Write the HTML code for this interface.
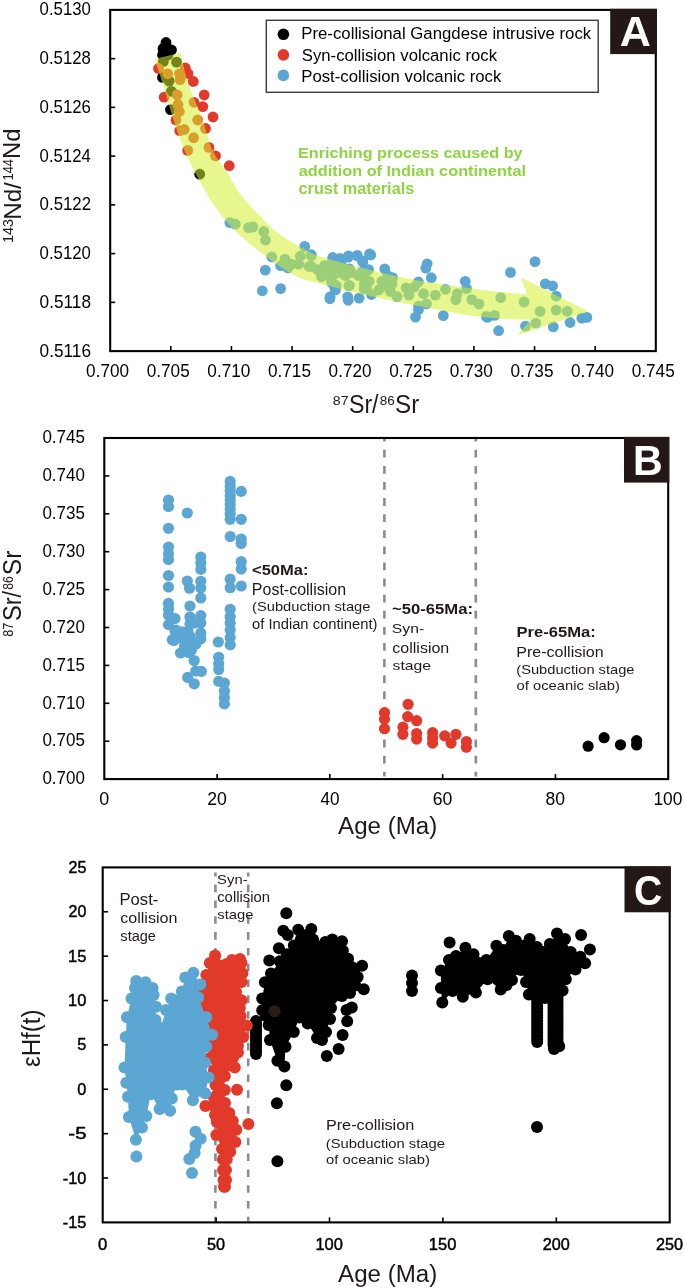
<!DOCTYPE html>
<html><head><meta charset="utf-8"><style>
html,body{margin:0;padding:0;background:#fff;}
svg{display:block;font-family:"Liberation Sans",sans-serif;will-change:transform;}
</style></head><body>
<svg width="685" height="1288" viewBox="0 0 685 1288">
<rect width="685" height="1288" fill="#fff"/>
<circle cx="171.5" cy="50.0" r="5.4" fill="#000000"/>
<circle cx="168.0" cy="55.0" r="5.4" fill="#000000"/>
<circle cx="166.0" cy="42.5" r="5.4" fill="#000000"/>
<circle cx="163.0" cy="48.5" r="5.4" fill="#000000"/>
<circle cx="165.5" cy="52.0" r="5.4" fill="#000000"/>
<circle cx="162.5" cy="55.0" r="5.4" fill="#000000"/>
<circle cx="163.4" cy="61.4" r="5.4" fill="#000000"/>
<circle cx="176.5" cy="62.1" r="5.4" fill="#000000"/>
<circle cx="162.5" cy="77.4" r="5.4" fill="#000000"/>
<circle cx="169.2" cy="81.1" r="5.4" fill="#000000"/>
<circle cx="171.4" cy="91.3" r="5.4" fill="#000000"/>
<circle cx="170.5" cy="109.6" r="5.4" fill="#000000"/>
<circle cx="199.7" cy="174.2" r="5.4" fill="#000000"/>
<circle cx="158.5" cy="68.5" r="5.4" fill="#e23a2a"/>
<circle cx="167.7" cy="73.8" r="5.4" fill="#e23a2a"/>
<circle cx="180.1" cy="79.6" r="5.4" fill="#e23a2a"/>
<circle cx="179.4" cy="73.8" r="5.4" fill="#e23a2a"/>
<circle cx="185.3" cy="68.0" r="5.4" fill="#e23a2a"/>
<circle cx="188.0" cy="73.5" r="5.4" fill="#e23a2a"/>
<circle cx="193.3" cy="81.5" r="5.4" fill="#e23a2a"/>
<circle cx="164.1" cy="97.2" r="5.4" fill="#e23a2a"/>
<circle cx="177.2" cy="95.0" r="5.4" fill="#e23a2a"/>
<circle cx="204.2" cy="95.0" r="5.4" fill="#e23a2a"/>
<circle cx="194.0" cy="102.3" r="5.4" fill="#e23a2a"/>
<circle cx="202.8" cy="106.6" r="5.4" fill="#e23a2a"/>
<circle cx="178.0" cy="104.5" r="5.4" fill="#e23a2a"/>
<circle cx="179.4" cy="111.5" r="5.4" fill="#e23a2a"/>
<circle cx="213.0" cy="117.0" r="5.4" fill="#e23a2a"/>
<circle cx="197.7" cy="120.0" r="5.4" fill="#e23a2a"/>
<circle cx="176.0" cy="120.0" r="5.4" fill="#e23a2a"/>
<circle cx="205.5" cy="128.5" r="5.4" fill="#e23a2a"/>
<circle cx="184.3" cy="129.5" r="5.4" fill="#e23a2a"/>
<circle cx="179.7" cy="130.7" r="5.4" fill="#e23a2a"/>
<circle cx="193.6" cy="137.7" r="5.4" fill="#e23a2a"/>
<circle cx="187.7" cy="150.4" r="5.4" fill="#e23a2a"/>
<circle cx="208.9" cy="147.4" r="5.4" fill="#e23a2a"/>
<circle cx="215.5" cy="155.9" r="5.4" fill="#e23a2a"/>
<circle cx="229.3" cy="165.7" r="5.4" fill="#e23a2a"/>
<circle cx="332.8" cy="257.5" r="5.4" fill="#5ba6d3"/>
<circle cx="339.8" cy="258.4" r="5.4" fill="#5ba6d3"/>
<circle cx="348.5" cy="255.8" r="5.4" fill="#5ba6d3"/>
<circle cx="357.3" cy="255.3" r="5.4" fill="#5ba6d3"/>
<circle cx="362.5" cy="261.0" r="5.4" fill="#5ba6d3"/>
<circle cx="369.5" cy="254.0" r="5.4" fill="#5ba6d3"/>
<circle cx="321.4" cy="269.8" r="5.4" fill="#5ba6d3"/>
<circle cx="327.5" cy="266.3" r="5.4" fill="#5ba6d3"/>
<circle cx="334.5" cy="264.5" r="5.4" fill="#5ba6d3"/>
<circle cx="341.5" cy="265.4" r="5.4" fill="#5ba6d3"/>
<circle cx="349.4" cy="268.9" r="5.4" fill="#5ba6d3"/>
<circle cx="351.2" cy="272.4" r="5.4" fill="#5ba6d3"/>
<circle cx="321.4" cy="276.8" r="5.4" fill="#5ba6d3"/>
<circle cx="329.3" cy="275.0" r="5.4" fill="#5ba6d3"/>
<circle cx="336.3" cy="273.3" r="5.4" fill="#5ba6d3"/>
<circle cx="343.3" cy="273.3" r="5.4" fill="#5ba6d3"/>
<circle cx="331.9" cy="282.9" r="5.4" fill="#5ba6d3"/>
<circle cx="336.3" cy="285.5" r="5.4" fill="#5ba6d3"/>
<circle cx="349.4" cy="285.5" r="5.4" fill="#5ba6d3"/>
<circle cx="365.2" cy="273.3" r="5.4" fill="#5ba6d3"/>
<circle cx="364.3" cy="283.8" r="5.4" fill="#5ba6d3"/>
<circle cx="311.3" cy="255.8" r="5.4" fill="#5ba6d3"/>
<circle cx="311.3" cy="266.3" r="5.4" fill="#5ba6d3"/>
<circle cx="335.4" cy="289.9" r="5.4" fill="#5ba6d3"/>
<circle cx="330.1" cy="296.9" r="5.4" fill="#5ba6d3"/>
<circle cx="347.7" cy="296.9" r="5.4" fill="#5ba6d3"/>
<circle cx="317.5" cy="269.6" r="5.4" fill="#5ba6d3"/>
<circle cx="324.8" cy="265.3" r="5.4" fill="#5ba6d3"/>
<circle cx="323.4" cy="274.0" r="5.4" fill="#5ba6d3"/>
<circle cx="345.3" cy="275.5" r="5.4" fill="#5ba6d3"/>
<circle cx="358.4" cy="275.5" r="5.4" fill="#5ba6d3"/>
<circle cx="367.2" cy="281.3" r="5.4" fill="#5ba6d3"/>
<circle cx="364.2" cy="288.6" r="5.4" fill="#5ba6d3"/>
<circle cx="381.8" cy="281.3" r="5.4" fill="#5ba6d3"/>
<circle cx="378.8" cy="290.0" r="5.4" fill="#5ba6d3"/>
<circle cx="392.0" cy="284.2" r="5.4" fill="#5ba6d3"/>
<circle cx="390.5" cy="291.5" r="5.4" fill="#5ba6d3"/>
<circle cx="229.9" cy="222.6" r="5.4" fill="#5ba6d3"/>
<circle cx="235.3" cy="224.1" r="5.4" fill="#5ba6d3"/>
<circle cx="248.5" cy="227.7" r="5.4" fill="#5ba6d3"/>
<circle cx="252.8" cy="227.0" r="5.4" fill="#5ba6d3"/>
<circle cx="263.8" cy="231.4" r="5.4" fill="#5ba6d3"/>
<circle cx="265.5" cy="240.1" r="5.4" fill="#5ba6d3"/>
<circle cx="271.8" cy="256.9" r="5.4" fill="#5ba6d3"/>
<circle cx="265.3" cy="270.1" r="5.4" fill="#5ba6d3"/>
<circle cx="262.3" cy="290.8" r="5.4" fill="#5ba6d3"/>
<circle cx="280.6" cy="288.6" r="5.4" fill="#5ba6d3"/>
<circle cx="280.6" cy="265.7" r="5.4" fill="#5ba6d3"/>
<circle cx="285.0" cy="259.1" r="5.4" fill="#5ba6d3"/>
<circle cx="287.9" cy="267.9" r="5.4" fill="#5ba6d3"/>
<circle cx="291.5" cy="264.2" r="5.4" fill="#5ba6d3"/>
<circle cx="298.8" cy="264.2" r="5.4" fill="#5ba6d3"/>
<circle cx="300.3" cy="256.2" r="5.4" fill="#5ba6d3"/>
<circle cx="304.7" cy="246.4" r="5.4" fill="#5ba6d3"/>
<circle cx="311.2" cy="254.7" r="5.4" fill="#5ba6d3"/>
<circle cx="309.1" cy="266.4" r="5.4" fill="#5ba6d3"/>
<circle cx="319.3" cy="270.1" r="5.4" fill="#5ba6d3"/>
<circle cx="332.8" cy="258.7" r="5.4" fill="#5ba6d3"/>
<circle cx="348.2" cy="257.2" r="5.4" fill="#5ba6d3"/>
<circle cx="356.9" cy="255.8" r="5.4" fill="#5ba6d3"/>
<circle cx="370.8" cy="255.0" r="5.4" fill="#5ba6d3"/>
<circle cx="362.8" cy="262.3" r="5.4" fill="#5ba6d3"/>
<circle cx="322.6" cy="269.6" r="5.4" fill="#5ba6d3"/>
<circle cx="330.7" cy="266.7" r="5.4" fill="#5ba6d3"/>
<circle cx="339.4" cy="269.6" r="5.4" fill="#5ba6d3"/>
<circle cx="349.6" cy="271.1" r="5.4" fill="#5ba6d3"/>
<circle cx="331.4" cy="281.3" r="5.4" fill="#5ba6d3"/>
<circle cx="335.0" cy="288.6" r="5.4" fill="#5ba6d3"/>
<circle cx="348.9" cy="285.7" r="5.4" fill="#5ba6d3"/>
<circle cx="362.0" cy="271.8" r="5.4" fill="#5ba6d3"/>
<circle cx="368.6" cy="269.6" r="5.4" fill="#5ba6d3"/>
<circle cx="369.3" cy="281.3" r="5.4" fill="#5ba6d3"/>
<circle cx="366.4" cy="288.6" r="5.4" fill="#5ba6d3"/>
<circle cx="371.5" cy="294.5" r="5.4" fill="#5ba6d3"/>
<circle cx="359.1" cy="298.1" r="5.4" fill="#5ba6d3"/>
<circle cx="348.2" cy="300.3" r="5.4" fill="#5ba6d3"/>
<circle cx="329.9" cy="298.8" r="5.4" fill="#5ba6d3"/>
<circle cx="384.7" cy="268.9" r="5.4" fill="#5ba6d3"/>
<circle cx="387.6" cy="275.5" r="5.4" fill="#5ba6d3"/>
<circle cx="386.9" cy="286.4" r="5.4" fill="#5ba6d3"/>
<circle cx="397.1" cy="296.6" r="5.4" fill="#5ba6d3"/>
<circle cx="392.7" cy="277.7" r="5.4" fill="#5ba6d3"/>
<circle cx="427.2" cy="263.8" r="5.4" fill="#5ba6d3"/>
<circle cx="425.8" cy="268.2" r="5.4" fill="#5ba6d3"/>
<circle cx="431.3" cy="277.7" r="5.4" fill="#5ba6d3"/>
<circle cx="418.5" cy="282.0" r="5.4" fill="#5ba6d3"/>
<circle cx="406.1" cy="287.9" r="5.4" fill="#5ba6d3"/>
<circle cx="414.1" cy="287.2" r="5.4" fill="#5ba6d3"/>
<circle cx="409.0" cy="295.2" r="5.4" fill="#5ba6d3"/>
<circle cx="423.6" cy="293.7" r="5.4" fill="#5ba6d3"/>
<circle cx="435.3" cy="295.2" r="5.4" fill="#5ba6d3"/>
<circle cx="445.5" cy="289.3" r="5.4" fill="#5ba6d3"/>
<circle cx="457.2" cy="293.7" r="5.4" fill="#5ba6d3"/>
<circle cx="455.7" cy="299.6" r="5.4" fill="#5ba6d3"/>
<circle cx="465.2" cy="281.3" r="5.4" fill="#5ba6d3"/>
<circle cx="466.6" cy="288.6" r="5.4" fill="#5ba6d3"/>
<circle cx="471.8" cy="299.6" r="5.4" fill="#5ba6d3"/>
<circle cx="479.0" cy="303.9" r="5.4" fill="#5ba6d3"/>
<circle cx="426.5" cy="303.9" r="5.4" fill="#5ba6d3"/>
<circle cx="418.5" cy="306.1" r="5.4" fill="#5ba6d3"/>
<circle cx="418.5" cy="309.8" r="5.4" fill="#5ba6d3"/>
<circle cx="415.5" cy="317.1" r="5.4" fill="#5ba6d3"/>
<circle cx="443.3" cy="315.6" r="5.4" fill="#5ba6d3"/>
<circle cx="486.4" cy="316.4" r="5.4" fill="#5ba6d3"/>
<circle cx="391.5" cy="281.3" r="5.4" fill="#5ba6d3"/>
<circle cx="535.0" cy="261.6" r="5.4" fill="#5ba6d3"/>
<circle cx="510.5" cy="272.4" r="5.4" fill="#5ba6d3"/>
<circle cx="545.3" cy="283.8" r="5.4" fill="#5ba6d3"/>
<circle cx="552.6" cy="286.0" r="5.4" fill="#5ba6d3"/>
<circle cx="556.2" cy="296.2" r="5.4" fill="#5ba6d3"/>
<circle cx="524.1" cy="302.0" r="5.4" fill="#5ba6d3"/>
<circle cx="540.1" cy="311.5" r="5.4" fill="#5ba6d3"/>
<circle cx="556.2" cy="310.1" r="5.4" fill="#5ba6d3"/>
<circle cx="567.2" cy="311.2" r="5.4" fill="#5ba6d3"/>
<circle cx="581.8" cy="318.1" r="5.4" fill="#5ba6d3"/>
<circle cx="586.9" cy="317.4" r="5.4" fill="#5ba6d3"/>
<circle cx="570.1" cy="322.5" r="5.4" fill="#5ba6d3"/>
<circle cx="553.3" cy="326.9" r="5.4" fill="#5ba6d3"/>
<circle cx="535.8" cy="323.2" r="5.4" fill="#5ba6d3"/>
<circle cx="525.5" cy="326.1" r="5.4" fill="#5ba6d3"/>
<circle cx="500.7" cy="297.7" r="5.4" fill="#5ba6d3"/>
<circle cx="498.6" cy="330.7" r="5.4" fill="#5ba6d3"/>
<circle cx="487.4" cy="317.4" r="5.4" fill="#5ba6d3"/>
<circle cx="494.5" cy="315.4" r="5.4" fill="#5ba6d3"/>
<path d="M180.8,52.8 L181.3,55.1 L181.9,58.0 L182.6,61.6 L183.4,65.5 L184.4,69.7 L185.4,74.1 L186.5,78.4 L187.8,82.6 L189.2,86.7 L190.9,91.0 L192.7,95.5 L194.6,99.9 L196.5,104.4 L198.4,108.9 L200.2,113.3 L201.8,117.6 L203.3,121.9 L204.6,126.2 L205.9,130.5 L207.1,134.7 L208.3,138.8 L209.5,142.8 L210.9,146.5 L212.3,150.0 L213.9,153.1 L215.5,155.9 L217.2,158.4 L218.9,160.8 L220.7,163.1 L222.5,165.4 L224.3,167.8 L226.0,170.4 L227.7,173.2 L229.4,176.1 L231.0,179.0 L232.7,182.0 L234.4,185.0 L236.2,188.0 L238.0,190.9 L240.0,193.7 L242.1,196.4 L244.3,199.1 L246.6,201.8 L248.9,204.4 L251.4,207.0 L253.8,209.6 L256.3,212.1 L258.8,214.7 L261.3,217.3 L263.8,219.8 L266.4,222.4 L269.0,225.0 L271.6,227.5 L274.3,229.9 L277.1,232.2 L280.0,234.5 L283.0,236.7 L286.2,238.8 L289.6,240.9 L292.9,242.9 L296.3,244.8 L299.5,246.6 L302.6,248.3 L305.5,249.8 L308.0,251.1 L310.0,252.2 L311.8,253.2 L313.6,254.0 L315.5,254.8 L317.7,255.7 L320.4,256.6 L323.8,257.7 L328.0,259.0 L332.7,260.3 L337.9,261.8 L343.5,263.2 L349.3,264.7 L355.1,266.2 L361.0,267.7 L366.7,269.1 L372.2,270.5 L377.6,271.8 L383.1,273.1 L388.6,274.4 L394.3,275.7 L400.2,277.0 L406.6,278.3 L413.4,279.6 L420.9,280.9 L429.1,282.2 L437.8,283.6 L446.7,284.9 L455.6,286.2 L464.3,287.4 L472.5,288.5 L480.0,289.5 L487.1,290.4 L494.2,291.2 L501.1,292.0 L507.7,292.6 L513.7,293.2 L519.0,293.7 L523.5,294.1 L527.0,294.5 L521.2,277.2 L588.4,311.4 L516.8,335.6 L530.7,320.0 L526.9,319.8 L522.0,319.6 L516.1,319.4 L509.5,319.1 L502.4,318.8 L495.0,318.3 L487.4,317.6 L480.0,316.8 L472.3,315.7 L464.0,314.4 L455.3,312.9 L446.4,311.3 L437.6,309.7 L429.0,308.0 L420.9,306.4 L413.4,305.0 L406.6,303.7 L400.2,302.4 L394.3,301.2 L388.6,300.0 L383.1,298.9 L377.6,297.7 L372.2,296.5 L366.7,295.2 L361.1,293.9 L355.4,292.5 L349.7,291.2 L344.2,289.8 L338.7,288.4 L333.5,287.1 L328.5,285.8 L323.8,284.5 L319.5,283.4 L315.6,282.4 L311.9,281.5 L308.5,280.6 L305.1,279.7 L301.7,278.6 L298.3,277.2 L294.6,275.5 L290.8,273.5 L286.9,271.2 L282.9,268.6 L278.9,265.9 L275.0,263.1 L271.0,260.2 L267.2,257.3 L263.4,254.5 L259.7,251.7 L256.0,248.8 L252.3,245.8 L248.6,242.8 L245.1,239.8 L241.7,236.8 L238.4,233.9 L235.4,231.0 L232.6,228.2 L230.0,225.5 L227.6,222.8 L225.3,220.2 L223.1,217.5 L221.0,214.8 L218.9,212.0 L216.7,209.0 L214.5,205.9 L212.5,202.8 L210.4,199.7 L208.4,196.4 L206.4,193.1 L204.4,189.7 L202.4,186.1 L200.4,182.5 L198.3,178.7 L196.3,174.8 L194.1,170.7 L192.0,166.6 L190.0,162.4 L188.0,158.3 L186.1,154.1 L184.3,150.0 L182.6,146.0 L181.1,142.0 L179.6,138.0 L178.2,134.0 L176.9,129.9 L175.6,125.9 L174.2,121.8 L172.9,117.6 L171.5,113.3 L170.2,108.8 L168.8,104.2 L167.4,99.6 L166.1,95.0 L164.8,90.6 L163.6,86.5 L162.4,82.6 L161.2,78.9 L160.1,75.3 L158.9,71.8 L157.8,68.6 L156.8,65.6 L155.9,62.9 L155.1,60.7 L154.5,58.9 Z" fill="#d4f030" fill-opacity="0.55"/>
<text x="298.05" y="157.80" font-size="15.07" fill="#8fd444" font-weight="bold" textLength="224.51" lengthAdjust="spacingAndGlyphs">Enriching process caused by</text>
<text x="298.71" y="176.30" font-size="14.07" fill="#8fd444" font-weight="bold" textLength="227.41" lengthAdjust="spacingAndGlyphs">addition of Indian continental</text>
<text x="298.55" y="194.40" font-size="15.86" fill="#8fd444" font-weight="bold" textLength="115.70" lengthAdjust="spacingAndGlyphs">crust materials</text>
<rect x="266.3" y="20.3" width="331.9" height="72" fill="#fff" stroke="#3e3a39" stroke-width="1.4"/>
<circle cx="283.4" cy="34.3" r="5.8" fill="#000000"/>
<circle cx="283.4" cy="54.9" r="5.8" fill="#e23a2a"/>
<circle cx="283.4" cy="75.4" r="5.8" fill="#5ba6d3"/>
<text x="301.26" y="39.00" font-size="16.09" fill="#000" textLength="289.96" lengthAdjust="spacingAndGlyphs">Pre-collisional Gangdese intrusive rock</text>
<text x="301.75" y="61.30" font-size="16.29" fill="#000" textLength="195.27" lengthAdjust="spacingAndGlyphs">Syn-collision volcanic rock</text>
<text x="301.26" y="82.20" font-size="15.94" fill="#000" textLength="200.12" lengthAdjust="spacingAndGlyphs">Post-collision volcanic rock</text>
<rect x="110.2" y="9.9" width="545.6" height="341.2" fill="none" stroke="#000" stroke-width="2.1"/>
<line x1="110.2" y1="58.642857142857146" x2="115.2" y2="58.642857142857146" stroke="#000" stroke-width="1.6"/>
<line x1="110.2" y1="107.3857142857143" x2="115.2" y2="107.3857142857143" stroke="#000" stroke-width="1.6"/>
<line x1="110.2" y1="156.12857142857146" x2="115.2" y2="156.12857142857146" stroke="#000" stroke-width="1.6"/>
<line x1="110.2" y1="204.8714285714286" x2="115.2" y2="204.8714285714286" stroke="#000" stroke-width="1.6"/>
<line x1="110.2" y1="253.61428571428576" x2="115.2" y2="253.61428571428576" stroke="#000" stroke-width="1.6"/>
<line x1="110.2" y1="302.3571428571429" x2="115.2" y2="302.3571428571429" stroke="#000" stroke-width="1.6"/>
<line x1="170.82222222222222" y1="351.1" x2="170.82222222222222" y2="346.1" stroke="#000" stroke-width="1.6"/>
<line x1="231.44444444444443" y1="351.1" x2="231.44444444444443" y2="346.1" stroke="#000" stroke-width="1.6"/>
<line x1="292.06666666666666" y1="351.1" x2="292.06666666666666" y2="346.1" stroke="#000" stroke-width="1.6"/>
<line x1="352.68888888888887" y1="351.1" x2="352.68888888888887" y2="346.1" stroke="#000" stroke-width="1.6"/>
<line x1="413.3111111111111" y1="351.1" x2="413.3111111111111" y2="346.1" stroke="#000" stroke-width="1.6"/>
<line x1="473.9333333333333" y1="351.1" x2="473.9333333333333" y2="346.1" stroke="#000" stroke-width="1.6"/>
<line x1="534.5555555555555" y1="351.1" x2="534.5555555555555" y2="346.1" stroke="#000" stroke-width="1.6"/>
<line x1="595.1777777777777" y1="351.1" x2="595.1777777777777" y2="346.1" stroke="#000" stroke-width="1.6"/>
<rect x="610.2" y="8.8" width="46.6" height="45.3" fill="#231815"/>
<text x="619.82" y="46.00" font-size="42.61" fill="#fff" font-weight="bold" textLength="31.15" lengthAdjust="spacingAndGlyphs">A</text>
<text x="39.56" y="356.64" font-size="17.69" fill="#000" textLength="51.42" lengthAdjust="spacingAndGlyphs">0.5116</text>
<text x="39.56" y="307.90" font-size="17.69" fill="#000" textLength="51.42" lengthAdjust="spacingAndGlyphs">0.5118</text>
<text x="39.58" y="259.15" font-size="17.69" fill="#000" textLength="51.29" lengthAdjust="spacingAndGlyphs">0.5120</text>
<text x="39.58" y="210.41" font-size="17.69" fill="#000" textLength="51.54" lengthAdjust="spacingAndGlyphs">0.5122</text>
<text x="39.58" y="161.67" font-size="17.69" fill="#000" textLength="51.20" lengthAdjust="spacingAndGlyphs">0.5124</text>
<text x="39.58" y="112.93" font-size="17.69" fill="#000" textLength="51.37" lengthAdjust="spacingAndGlyphs">0.5126</text>
<text x="39.58" y="64.18" font-size="17.69" fill="#000" textLength="51.37" lengthAdjust="spacingAndGlyphs">0.5128</text>
<text x="39.58" y="15.44" font-size="17.69" fill="#000" textLength="51.29" lengthAdjust="spacingAndGlyphs">0.5130</text>
<text x="86.11" y="376.77" font-size="18.39" fill="#000" textLength="42.93" lengthAdjust="spacingAndGlyphs">0.700</text>
<text x="146.73" y="376.77" font-size="18.39" fill="#000" textLength="43.02" lengthAdjust="spacingAndGlyphs">0.705</text>
<text x="207.36" y="376.77" font-size="18.39" fill="#000" textLength="42.93" lengthAdjust="spacingAndGlyphs">0.710</text>
<text x="267.98" y="376.77" font-size="18.39" fill="#000" textLength="43.02" lengthAdjust="spacingAndGlyphs">0.715</text>
<text x="328.60" y="376.77" font-size="18.39" fill="#000" textLength="42.93" lengthAdjust="spacingAndGlyphs">0.720</text>
<text x="389.22" y="376.77" font-size="18.39" fill="#000" textLength="43.02" lengthAdjust="spacingAndGlyphs">0.725</text>
<text x="449.85" y="376.77" font-size="18.39" fill="#000" textLength="42.93" lengthAdjust="spacingAndGlyphs">0.730</text>
<text x="510.47" y="376.77" font-size="18.39" fill="#000" textLength="43.02" lengthAdjust="spacingAndGlyphs">0.735</text>
<text x="571.09" y="376.77" font-size="18.39" fill="#000" textLength="42.93" lengthAdjust="spacingAndGlyphs">0.740</text>
<text x="631.71" y="376.77" font-size="18.39" fill="#000" textLength="43.02" lengthAdjust="spacingAndGlyphs">0.745</text>
<text x="332.87" y="404.50" font-size="12.86" fill="#231815" textLength="15.67" lengthAdjust="spacingAndGlyphs">87</text>
<text x="348.96" y="413.40" font-size="25.14" fill="#231815" textLength="29.59" lengthAdjust="spacingAndGlyphs">Sr/</text>
<text x="379.69" y="405.40" font-size="13.43" fill="#231815" textLength="14.98" lengthAdjust="spacingAndGlyphs">86</text>
<text x="395.11" y="413.40" font-size="24.86" fill="#231815" textLength="24.17" lengthAdjust="spacingAndGlyphs">Sr</text>
<text transform="rotate(-90)" x="-243.08" y="12.60" font-size="14.43" fill="#231815" textLength="24.01" lengthAdjust="spacingAndGlyphs">143</text>
<text transform="rotate(-90)" x="-219.73" y="20.50" font-size="24.78" fill="#231815" textLength="37.54" lengthAdjust="spacingAndGlyphs">Nd/</text>
<text transform="rotate(-90)" x="-180.47" y="12.70" font-size="14.71" fill="#231815" textLength="21.50" lengthAdjust="spacingAndGlyphs">144</text>
<text transform="rotate(-90)" x="-158.90" y="20.40" font-size="24.78" fill="#231815" textLength="30.43" lengthAdjust="spacingAndGlyphs">Nd</text>
<path d="M384.4,438.0V441.5M384.4,449.8V457.6M384.4,465.9V473.7M384.4,482.0V489.8M384.4,498.1V505.9M384.4,514.2V522.0M384.4,530.3V538.1M384.4,546.4V554.2M384.4,562.5V570.3M384.4,578.6V586.4M384.4,594.7V602.5M384.4,610.8V618.6M384.4,626.9V634.7M384.4,643.0V650.8M384.4,659.1V666.9M384.4,675.2V683.0M384.4,691.3V699.1M384.4,707.4V715.2M384.4,723.5V731.3M384.4,739.6V747.4M384.4,755.7V763.5M384.4,771.8V776.5" stroke="#8c8c8c" stroke-width="2.6" fill="none"/>
<path d="M475.8,438.0V441.5M475.8,449.8V457.6M475.8,465.9V473.7M475.8,482.0V489.8M475.8,498.1V505.9M475.8,514.2V522.0M475.8,530.3V538.1M475.8,546.4V554.2M475.8,562.5V570.3M475.8,578.6V586.4M475.8,594.7V602.5M475.8,610.8V618.6M475.8,626.9V634.7M475.8,643.0V650.8M475.8,659.1V666.9M475.8,675.2V683.0M475.8,691.3V699.1M475.8,707.4V715.2M475.8,723.5V731.3M475.8,739.6V747.4M475.8,755.7V763.5M475.8,771.8V776.5" stroke="#8c8c8c" stroke-width="2.6" fill="none"/>
<circle cx="168.5" cy="500.0" r="5.6" fill="#5ba6d3"/>
<circle cx="168.5" cy="506.5" r="5.6" fill="#5ba6d3"/>
<circle cx="168.5" cy="528.3" r="5.6" fill="#5ba6d3"/>
<circle cx="168.5" cy="547.0" r="5.6" fill="#5ba6d3"/>
<circle cx="168.5" cy="553.5" r="5.6" fill="#5ba6d3"/>
<circle cx="168.5" cy="559.5" r="5.6" fill="#5ba6d3"/>
<circle cx="168.5" cy="575.5" r="5.6" fill="#5ba6d3"/>
<circle cx="168.5" cy="587.0" r="5.6" fill="#5ba6d3"/>
<circle cx="168.5" cy="603.4" r="5.6" fill="#5ba6d3"/>
<circle cx="168.5" cy="615.0" r="5.6" fill="#5ba6d3"/>
<circle cx="168.5" cy="624.6" r="5.6" fill="#5ba6d3"/>
<circle cx="175.0" cy="618.5" r="5.6" fill="#5ba6d3"/>
<circle cx="172.3" cy="639.8" r="5.6" fill="#5ba6d3"/>
<circle cx="174.1" cy="640.4" r="5.6" fill="#5ba6d3"/>
<circle cx="180.5" cy="653.0" r="5.6" fill="#5ba6d3"/>
<circle cx="182.0" cy="638.0" r="5.6" fill="#5ba6d3"/>
<circle cx="184.5" cy="646.0" r="5.6" fill="#5ba6d3"/>
<circle cx="188.5" cy="652.5" r="5.6" fill="#5ba6d3"/>
<circle cx="190.1" cy="636.4" r="5.6" fill="#5ba6d3"/>
<circle cx="182.0" cy="631.8" r="5.6" fill="#5ba6d3"/>
<circle cx="188.0" cy="631.8" r="5.6" fill="#5ba6d3"/>
<circle cx="175.0" cy="631.0" r="5.6" fill="#5ba6d3"/>
<circle cx="187.3" cy="513.0" r="5.6" fill="#5ba6d3"/>
<circle cx="187.3" cy="581.0" r="5.6" fill="#5ba6d3"/>
<circle cx="189.5" cy="588.2" r="5.6" fill="#5ba6d3"/>
<circle cx="190.0" cy="606.0" r="5.6" fill="#5ba6d3"/>
<circle cx="190.0" cy="617.0" r="5.6" fill="#5ba6d3"/>
<circle cx="194.5" cy="623.0" r="5.6" fill="#5ba6d3"/>
<circle cx="200.8" cy="557.0" r="5.6" fill="#5ba6d3"/>
<circle cx="200.8" cy="563.0" r="5.6" fill="#5ba6d3"/>
<circle cx="200.8" cy="569.4" r="5.6" fill="#5ba6d3"/>
<circle cx="200.8" cy="581.3" r="5.6" fill="#5ba6d3"/>
<circle cx="200.8" cy="588.0" r="5.6" fill="#5ba6d3"/>
<circle cx="200.8" cy="598.0" r="5.6" fill="#5ba6d3"/>
<circle cx="200.8" cy="615.7" r="5.6" fill="#5ba6d3"/>
<circle cx="200.8" cy="623.0" r="5.6" fill="#5ba6d3"/>
<circle cx="200.8" cy="633.2" r="5.6" fill="#5ba6d3"/>
<circle cx="200.8" cy="638.8" r="5.6" fill="#5ba6d3"/>
<circle cx="168.6" cy="609.0" r="5.6" fill="#5ba6d3"/>
<circle cx="190.0" cy="624.0" r="5.6" fill="#5ba6d3"/>
<circle cx="196.0" cy="644.0" r="5.6" fill="#5ba6d3"/>
<circle cx="191.5" cy="650.0" r="5.6" fill="#5ba6d3"/>
<circle cx="190.0" cy="640.5" r="5.6" fill="#5ba6d3"/>
<circle cx="176.0" cy="630.0" r="5.6" fill="#5ba6d3"/>
<circle cx="194.2" cy="660.5" r="5.6" fill="#5ba6d3"/>
<circle cx="195.8" cy="671.0" r="5.6" fill="#5ba6d3"/>
<circle cx="201.4" cy="671.4" r="5.6" fill="#5ba6d3"/>
<circle cx="187.7" cy="677.4" r="5.6" fill="#5ba6d3"/>
<circle cx="194.2" cy="683.8" r="5.6" fill="#5ba6d3"/>
<circle cx="218.3" cy="642.0" r="5.6" fill="#5ba6d3"/>
<circle cx="230.2" cy="481.4" r="5.6" fill="#5ba6d3"/>
<circle cx="230.2" cy="486.5" r="5.6" fill="#5ba6d3"/>
<circle cx="230.2" cy="491.0" r="5.6" fill="#5ba6d3"/>
<circle cx="230.2" cy="495.5" r="5.6" fill="#5ba6d3"/>
<circle cx="230.2" cy="499.8" r="5.6" fill="#5ba6d3"/>
<circle cx="230.2" cy="504.5" r="5.6" fill="#5ba6d3"/>
<circle cx="230.2" cy="509.0" r="5.6" fill="#5ba6d3"/>
<circle cx="230.2" cy="514.0" r="5.6" fill="#5ba6d3"/>
<circle cx="230.2" cy="519.3" r="5.6" fill="#5ba6d3"/>
<circle cx="230.2" cy="536.5" r="5.6" fill="#5ba6d3"/>
<circle cx="230.2" cy="579.2" r="5.6" fill="#5ba6d3"/>
<circle cx="230.2" cy="587.7" r="5.6" fill="#5ba6d3"/>
<circle cx="230.2" cy="609.3" r="5.6" fill="#5ba6d3"/>
<circle cx="230.2" cy="616.6" r="5.6" fill="#5ba6d3"/>
<circle cx="230.2" cy="623.0" r="5.6" fill="#5ba6d3"/>
<circle cx="230.2" cy="630.0" r="5.6" fill="#5ba6d3"/>
<circle cx="230.2" cy="637.6" r="5.6" fill="#5ba6d3"/>
<circle cx="230.2" cy="644.9" r="5.6" fill="#5ba6d3"/>
<circle cx="241.2" cy="491.4" r="5.6" fill="#5ba6d3"/>
<circle cx="241.2" cy="519.3" r="5.6" fill="#5ba6d3"/>
<circle cx="241.2" cy="539.0" r="5.6" fill="#5ba6d3"/>
<circle cx="241.2" cy="543.5" r="5.6" fill="#5ba6d3"/>
<circle cx="241.2" cy="561.7" r="5.6" fill="#5ba6d3"/>
<circle cx="241.2" cy="569.0" r="5.6" fill="#5ba6d3"/>
<circle cx="241.2" cy="586.0" r="5.6" fill="#5ba6d3"/>
<circle cx="218.7" cy="657.3" r="5.6" fill="#5ba6d3"/>
<circle cx="218.7" cy="663.7" r="5.6" fill="#5ba6d3"/>
<circle cx="218.7" cy="669.5" r="5.6" fill="#5ba6d3"/>
<circle cx="218.7" cy="681.4" r="5.6" fill="#5ba6d3"/>
<circle cx="224.4" cy="683.0" r="5.6" fill="#5ba6d3"/>
<circle cx="224.4" cy="691.0" r="5.6" fill="#5ba6d3"/>
<circle cx="224.4" cy="697.4" r="5.6" fill="#5ba6d3"/>
<circle cx="224.4" cy="703.9" r="5.6" fill="#5ba6d3"/>
<circle cx="384.5" cy="712.6" r="5.6" fill="#e23a2a"/>
<circle cx="384.5" cy="719.1" r="5.6" fill="#e23a2a"/>
<circle cx="384.5" cy="728.7" r="5.6" fill="#e23a2a"/>
<circle cx="408.1" cy="704.3" r="5.6" fill="#e23a2a"/>
<circle cx="407.7" cy="716.6" r="5.6" fill="#e23a2a"/>
<circle cx="416.6" cy="720.7" r="5.6" fill="#e23a2a"/>
<circle cx="402.9" cy="727.1" r="5.6" fill="#e23a2a"/>
<circle cx="402.9" cy="734.3" r="5.6" fill="#e23a2a"/>
<circle cx="416.6" cy="733.5" r="5.6" fill="#e23a2a"/>
<circle cx="416.6" cy="739.1" r="5.6" fill="#e23a2a"/>
<circle cx="432.6" cy="732.7" r="5.6" fill="#e23a2a"/>
<circle cx="432.6" cy="738.0" r="5.6" fill="#e23a2a"/>
<circle cx="432.6" cy="743.1" r="5.6" fill="#e23a2a"/>
<circle cx="444.7" cy="735.9" r="5.6" fill="#e23a2a"/>
<circle cx="455.9" cy="734.3" r="5.6" fill="#e23a2a"/>
<circle cx="451.1" cy="743.1" r="5.6" fill="#e23a2a"/>
<circle cx="466.4" cy="741.5" r="5.6" fill="#e23a2a"/>
<circle cx="466.4" cy="747.2" r="5.6" fill="#e23a2a"/>
<circle cx="588.1" cy="746.2" r="5.6" fill="#000000"/>
<circle cx="604.1" cy="737.7" r="5.6" fill="#000000"/>
<circle cx="620.5" cy="744.8" r="5.6" fill="#000000"/>
<circle cx="636.6" cy="740.6" r="5.6" fill="#000000"/>
<circle cx="636.6" cy="745.0" r="5.6" fill="#000000"/>
<rect x="104.3" y="438.0" width="563.9" height="341.1" fill="none" stroke="#000" stroke-width="2.1"/>
<line x1="104.3" y1="741.2" x2="109.3" y2="741.2" stroke="#000" stroke-width="1.6"/>
<line x1="104.3" y1="703.3" x2="109.3" y2="703.3" stroke="#000" stroke-width="1.6"/>
<line x1="104.3" y1="665.4" x2="109.3" y2="665.4" stroke="#000" stroke-width="1.6"/>
<line x1="104.3" y1="627.5" x2="109.3" y2="627.5" stroke="#000" stroke-width="1.6"/>
<line x1="104.3" y1="589.6" x2="109.3" y2="589.6" stroke="#000" stroke-width="1.6"/>
<line x1="104.3" y1="551.7" x2="109.3" y2="551.7" stroke="#000" stroke-width="1.6"/>
<line x1="104.3" y1="513.8" x2="109.3" y2="513.8" stroke="#000" stroke-width="1.6"/>
<line x1="104.3" y1="475.9" x2="109.3" y2="475.9" stroke="#000" stroke-width="1.6"/>
<line x1="217.08" y1="779.1" x2="217.08" y2="774.1" stroke="#000" stroke-width="1.6"/>
<line x1="329.86" y1="779.1" x2="329.86" y2="774.1" stroke="#000" stroke-width="1.6"/>
<line x1="442.64000000000004" y1="779.1" x2="442.64000000000004" y2="774.1" stroke="#000" stroke-width="1.6"/>
<line x1="555.4200000000001" y1="779.1" x2="555.4200000000001" y2="774.1" stroke="#000" stroke-width="1.6"/>
<rect x="624.0" y="436.9" width="45.3" height="45.7" fill="#231815"/>
<text x="633.03" y="475.00" font-size="43.33" fill="#fff" font-weight="bold" textLength="29.72" lengthAdjust="spacingAndGlyphs">B</text>
<text x="42.42" y="784.37" font-size="17.46" fill="#000" textLength="42.41" lengthAdjust="spacingAndGlyphs">0.700</text>
<text x="42.42" y="746.47" font-size="17.46" fill="#000" textLength="42.50" lengthAdjust="spacingAndGlyphs">0.705</text>
<text x="42.42" y="708.57" font-size="17.46" fill="#000" textLength="42.41" lengthAdjust="spacingAndGlyphs">0.710</text>
<text x="42.42" y="670.67" font-size="17.46" fill="#000" textLength="42.50" lengthAdjust="spacingAndGlyphs">0.715</text>
<text x="42.42" y="632.77" font-size="17.46" fill="#000" textLength="42.41" lengthAdjust="spacingAndGlyphs">0.720</text>
<text x="42.42" y="594.87" font-size="17.46" fill="#000" textLength="42.50" lengthAdjust="spacingAndGlyphs">0.725</text>
<text x="42.42" y="556.97" font-size="17.46" fill="#000" textLength="42.41" lengthAdjust="spacingAndGlyphs">0.730</text>
<text x="42.42" y="519.07" font-size="17.46" fill="#000" textLength="42.50" lengthAdjust="spacingAndGlyphs">0.735</text>
<text x="42.42" y="481.17" font-size="17.46" fill="#000" textLength="42.41" lengthAdjust="spacingAndGlyphs">0.740</text>
<text x="42.42" y="443.27" font-size="17.46" fill="#000" textLength="42.50" lengthAdjust="spacingAndGlyphs">0.745</text>
<text x="99.28" y="804.80" font-size="18.29" fill="#000" textLength="9.96" lengthAdjust="spacingAndGlyphs">0</text>
<text x="207.15" y="804.80" font-size="18.29" fill="#000" textLength="19.64" lengthAdjust="spacingAndGlyphs">20</text>
<text x="320.47" y="804.80" font-size="18.29" fill="#000" textLength="19.08" lengthAdjust="spacingAndGlyphs">40</text>
<text x="432.71" y="804.80" font-size="18.29" fill="#000" textLength="19.64" lengthAdjust="spacingAndGlyphs">60</text>
<text x="545.58" y="804.80" font-size="18.29" fill="#000" textLength="19.55" lengthAdjust="spacingAndGlyphs">80</text>
<text x="653.40" y="804.80" font-size="18.29" fill="#000" textLength="28.97" lengthAdjust="spacingAndGlyphs">100</text>
<text x="338.10" y="834.30" font-size="24.35" fill="#231815" textLength="99.21" lengthAdjust="spacingAndGlyphs">Age (Ma)</text>
<text transform="rotate(-90)" x="-636.87" y="12.70" font-size="14.86" fill="#231815" textLength="14.03" lengthAdjust="spacingAndGlyphs">87</text>
<text transform="rotate(-90)" x="-621.06" y="20.70" font-size="25.14" fill="#231815" textLength="30.21" lengthAdjust="spacingAndGlyphs">Sr/</text>
<text transform="rotate(-90)" x="-589.84" y="12.70" font-size="14.86" fill="#231815" textLength="13.46" lengthAdjust="spacingAndGlyphs">86</text>
<text transform="rotate(-90)" x="-575.20" y="20.70" font-size="25.14" fill="#231815" textLength="24.49" lengthAdjust="spacingAndGlyphs">Sr</text>
<text x="252.04" y="575.30" font-size="15.51" fill="#231815" font-weight="bold" textLength="56.47" lengthAdjust="spacingAndGlyphs">&lt;50Ma:</text>
<text x="251.82" y="594.50" font-size="16.38" fill="#231815" textLength="94.24" lengthAdjust="spacingAndGlyphs">Post-collision</text>
<text x="252.02" y="611.30" font-size="13.14" fill="#231815" textLength="118.46" lengthAdjust="spacingAndGlyphs">(Subduction stage</text>
<text x="252.01" y="629.30" font-size="14.49" fill="#231815" textLength="125.39" lengthAdjust="spacingAndGlyphs">of Indian continent)</text>
<text x="391.93" y="613.80" font-size="14.35" fill="#231815" font-weight="bold" textLength="81.12" lengthAdjust="spacingAndGlyphs">~50-65Ma:</text>
<text x="391.89" y="632.80" font-size="13.14" fill="#231815" textLength="32.25" lengthAdjust="spacingAndGlyphs">Syn-</text>
<text x="392.36" y="652.60" font-size="15.45" fill="#231815" textLength="56.92" lengthAdjust="spacingAndGlyphs">collision</text>
<text x="392.53" y="669.60" font-size="12.77" fill="#231815" textLength="38.50" lengthAdjust="spacingAndGlyphs">stage</text>
<text x="516.52" y="637.00" font-size="14.93" fill="#231815" font-weight="bold" textLength="79.34" lengthAdjust="spacingAndGlyphs">Pre-65Ma:</text>
<text x="516.32" y="656.60" font-size="14.93" fill="#231815" textLength="87.35" lengthAdjust="spacingAndGlyphs">Pre-collision</text>
<text x="516.32" y="674.30" font-size="12.57" fill="#231815" textLength="118.16" lengthAdjust="spacingAndGlyphs">(Subduction stage</text>
<text x="516.61" y="690.20" font-size="12.14" fill="#231815" textLength="103.23" lengthAdjust="spacingAndGlyphs">of oceanic slab)</text>
<path d="M215.4,872.5V876.4M215.4,884.6V892.2M215.4,900.4V908.0M215.4,916.2V923.8M215.4,932.1V939.7M215.4,947.9V955.5M215.4,963.7V971.3M215.4,979.5V987.1M215.4,995.3V1002.9M215.4,1011.2V1018.8M215.4,1027.0V1034.6M215.4,1042.8V1050.4M215.4,1058.6V1066.2M215.4,1074.4V1082.0M215.4,1090.3V1097.9M215.4,1106.1V1113.7M215.4,1121.9V1129.5M215.4,1137.7V1145.3M215.4,1153.5V1161.1M215.4,1169.4V1177.0M215.4,1185.2V1192.8M215.4,1201.0V1208.6M215.4,1216.8V1221.0" stroke="#8c8c8c" stroke-width="2.6" fill="none"/>
<path d="M248.2,872.5V876.4M248.2,884.6V892.2M248.2,900.4V908.0M248.2,916.2V923.8M248.2,932.1V939.7M248.2,947.9V955.5M248.2,963.7V971.3M248.2,979.5V987.1M248.2,995.3V1002.9M248.2,1011.2V1018.8M248.2,1027.0V1034.6M248.2,1042.8V1050.4M248.2,1058.6V1066.2M248.2,1074.4V1082.0M248.2,1090.3V1097.9M248.2,1106.1V1113.7M248.2,1121.9V1129.5M248.2,1137.7V1145.3M248.2,1153.5V1161.1M248.2,1169.4V1177.0M248.2,1185.2V1192.8M248.2,1201.0V1208.6M248.2,1216.8V1221.0" stroke="#8c8c8c" stroke-width="2.6" fill="none"/>
<path d="M293.8,945.5 L300.8,939.4 L298.2,929.8 L311.3,928.9 L313.1,939.4 L325.3,942.0 L332.3,939.4 L342.0,941.2 L342.9,950.8 L348.1,958.7 L362.1,965.7 L357.7,977.1 L363.8,989.3 L350.0,993.0 L342.0,996.0 L331.0,1008.0 L330.0,1019.0 L326.0,1032.0 L322.0,1040.0 L317.0,1038.0 L307.7,1023.4 L299.6,1017.5 L293.8,1031.9 L285.5,1046.7 L284.4,1066.6 L277.4,1060.7 L270.0,1040.0 L268.7,1025.0 L266.0,1016.0 L262.2,1010.2 L262.2,998.5 L264.9,982.3 L271.0,973.6 L279.8,961.3 L286.8,954.3 Z" fill="#000000"/>
<circle cx="293.8" cy="945.5" r="6.0" fill="#000000"/>
<circle cx="300.8" cy="939.4" r="6.0" fill="#000000"/>
<circle cx="298.2" cy="929.8" r="6.0" fill="#000000"/>
<circle cx="311.3" cy="928.9" r="6.0" fill="#000000"/>
<circle cx="313.1" cy="939.4" r="6.0" fill="#000000"/>
<circle cx="325.3" cy="942.0" r="6.0" fill="#000000"/>
<circle cx="332.3" cy="939.4" r="6.0" fill="#000000"/>
<circle cx="342.0" cy="941.2" r="6.0" fill="#000000"/>
<circle cx="342.9" cy="950.8" r="6.0" fill="#000000"/>
<circle cx="348.1" cy="958.7" r="6.0" fill="#000000"/>
<circle cx="362.1" cy="965.7" r="6.0" fill="#000000"/>
<circle cx="357.7" cy="977.1" r="6.0" fill="#000000"/>
<circle cx="363.8" cy="989.3" r="6.0" fill="#000000"/>
<circle cx="350.0" cy="993.0" r="6.0" fill="#000000"/>
<circle cx="342.0" cy="996.0" r="6.0" fill="#000000"/>
<circle cx="331.0" cy="1008.0" r="6.0" fill="#000000"/>
<circle cx="330.0" cy="1019.0" r="6.0" fill="#000000"/>
<circle cx="326.0" cy="1032.0" r="6.0" fill="#000000"/>
<circle cx="322.0" cy="1040.0" r="6.0" fill="#000000"/>
<circle cx="317.0" cy="1038.0" r="6.0" fill="#000000"/>
<circle cx="307.7" cy="1023.4" r="6.0" fill="#000000"/>
<circle cx="299.6" cy="1017.5" r="6.0" fill="#000000"/>
<circle cx="293.8" cy="1031.9" r="6.0" fill="#000000"/>
<circle cx="285.5" cy="1046.7" r="6.0" fill="#000000"/>
<circle cx="284.4" cy="1066.6" r="6.0" fill="#000000"/>
<circle cx="277.4" cy="1060.7" r="6.0" fill="#000000"/>
<circle cx="270.0" cy="1040.0" r="6.0" fill="#000000"/>
<circle cx="268.7" cy="1025.0" r="6.0" fill="#000000"/>
<circle cx="266.0" cy="1016.0" r="6.0" fill="#000000"/>
<circle cx="262.2" cy="1010.2" r="6.0" fill="#000000"/>
<circle cx="262.2" cy="998.5" r="6.0" fill="#000000"/>
<circle cx="264.9" cy="982.3" r="6.0" fill="#000000"/>
<circle cx="271.0" cy="973.6" r="6.0" fill="#000000"/>
<circle cx="279.8" cy="961.3" r="6.0" fill="#000000"/>
<circle cx="286.8" cy="954.3" r="6.0" fill="#000000"/>
<path d="M442.3,1002.6 L440.9,988.0 L440.9,970.5 L449.0,960.0 L456.0,956.0 L465.4,947.8 L473.5,954.2 L486.4,960.0 L496.4,945.7 L503.6,950.1 L508.8,935.9 L516.0,940.7 L529.7,939.1 L536.9,947.1 L543.4,952.0 L549.8,943.9 L557.0,933.5 L565.0,939.1 L570.7,952.0 L580.3,956.8 L585.1,963.2 L575.5,969.6 L565.8,979.2 L562.6,990.5 L556.2,996.9 L545.0,998.0 L538.5,994.5 L528.9,994.5 L526.0,982.0 L520.9,970.0 L512.0,980.0 L506.6,985.1 L500.7,989.5 L487.6,979.3 L475.9,992.4 L462.8,996.8 L452.6,991.0 Z" fill="#000000"/>
<circle cx="442.3" cy="1002.6" r="6.0" fill="#000000"/>
<circle cx="440.9" cy="988.0" r="6.0" fill="#000000"/>
<circle cx="440.9" cy="970.5" r="6.0" fill="#000000"/>
<circle cx="449.0" cy="960.0" r="6.0" fill="#000000"/>
<circle cx="456.0" cy="956.0" r="6.0" fill="#000000"/>
<circle cx="465.4" cy="947.8" r="6.0" fill="#000000"/>
<circle cx="473.5" cy="954.2" r="6.0" fill="#000000"/>
<circle cx="486.4" cy="960.0" r="6.0" fill="#000000"/>
<circle cx="496.4" cy="945.7" r="6.0" fill="#000000"/>
<circle cx="503.6" cy="950.1" r="6.0" fill="#000000"/>
<circle cx="508.8" cy="935.9" r="6.0" fill="#000000"/>
<circle cx="516.0" cy="940.7" r="6.0" fill="#000000"/>
<circle cx="529.7" cy="939.1" r="6.0" fill="#000000"/>
<circle cx="536.9" cy="947.1" r="6.0" fill="#000000"/>
<circle cx="543.4" cy="952.0" r="6.0" fill="#000000"/>
<circle cx="549.8" cy="943.9" r="6.0" fill="#000000"/>
<circle cx="557.0" cy="933.5" r="6.0" fill="#000000"/>
<circle cx="565.0" cy="939.1" r="6.0" fill="#000000"/>
<circle cx="570.7" cy="952.0" r="6.0" fill="#000000"/>
<circle cx="580.3" cy="956.8" r="6.0" fill="#000000"/>
<circle cx="585.1" cy="963.2" r="6.0" fill="#000000"/>
<circle cx="575.5" cy="969.6" r="6.0" fill="#000000"/>
<circle cx="565.8" cy="979.2" r="6.0" fill="#000000"/>
<circle cx="562.6" cy="990.5" r="6.0" fill="#000000"/>
<circle cx="556.2" cy="996.9" r="6.0" fill="#000000"/>
<circle cx="545.0" cy="998.0" r="6.0" fill="#000000"/>
<circle cx="538.5" cy="994.5" r="6.0" fill="#000000"/>
<circle cx="528.9" cy="994.5" r="6.0" fill="#000000"/>
<circle cx="526.0" cy="982.0" r="6.0" fill="#000000"/>
<circle cx="520.9" cy="970.0" r="6.0" fill="#000000"/>
<circle cx="512.0" cy="980.0" r="6.0" fill="#000000"/>
<circle cx="506.6" cy="985.1" r="6.0" fill="#000000"/>
<circle cx="500.7" cy="989.5" r="6.0" fill="#000000"/>
<circle cx="487.6" cy="979.3" r="6.0" fill="#000000"/>
<circle cx="475.9" cy="992.4" r="6.0" fill="#000000"/>
<circle cx="462.8" cy="996.8" r="6.0" fill="#000000"/>
<circle cx="452.6" cy="991.0" r="6.0" fill="#000000"/>
<circle cx="537.2" cy="1000.0" r="6.0" fill="#000000"/>
<circle cx="537.2" cy="1003.0" r="6.0" fill="#000000"/>
<circle cx="537.2" cy="1006.0" r="6.0" fill="#000000"/>
<circle cx="537.2" cy="1009.0" r="6.0" fill="#000000"/>
<circle cx="537.2" cy="1012.0" r="6.0" fill="#000000"/>
<circle cx="537.2" cy="1015.0" r="6.0" fill="#000000"/>
<circle cx="537.2" cy="1018.0" r="6.0" fill="#000000"/>
<circle cx="537.2" cy="1021.0" r="6.0" fill="#000000"/>
<circle cx="537.2" cy="1024.0" r="6.0" fill="#000000"/>
<circle cx="537.2" cy="1027.0" r="6.0" fill="#000000"/>
<circle cx="537.2" cy="1030.0" r="6.0" fill="#000000"/>
<circle cx="537.2" cy="1033.0" r="6.0" fill="#000000"/>
<circle cx="537.2" cy="1036.0" r="6.0" fill="#000000"/>
<circle cx="537.2" cy="1039.0" r="6.0" fill="#000000"/>
<circle cx="537.2" cy="1042.0" r="6.0" fill="#000000"/>
<circle cx="553.5" cy="985.0" r="6.0" fill="#000000"/>
<circle cx="557.5" cy="985.0" r="6.0" fill="#000000"/>
<circle cx="553.5" cy="988.0" r="6.0" fill="#000000"/>
<circle cx="557.5" cy="988.0" r="6.0" fill="#000000"/>
<circle cx="553.5" cy="991.0" r="6.0" fill="#000000"/>
<circle cx="557.5" cy="991.0" r="6.0" fill="#000000"/>
<circle cx="553.5" cy="994.0" r="6.0" fill="#000000"/>
<circle cx="557.5" cy="994.0" r="6.0" fill="#000000"/>
<circle cx="553.5" cy="997.0" r="6.0" fill="#000000"/>
<circle cx="557.5" cy="997.0" r="6.0" fill="#000000"/>
<circle cx="553.5" cy="1000.0" r="6.0" fill="#000000"/>
<circle cx="557.5" cy="1000.0" r="6.0" fill="#000000"/>
<circle cx="553.5" cy="1003.0" r="6.0" fill="#000000"/>
<circle cx="557.5" cy="1003.0" r="6.0" fill="#000000"/>
<circle cx="553.5" cy="1006.0" r="6.0" fill="#000000"/>
<circle cx="557.5" cy="1006.0" r="6.0" fill="#000000"/>
<circle cx="553.5" cy="1009.0" r="6.0" fill="#000000"/>
<circle cx="557.5" cy="1009.0" r="6.0" fill="#000000"/>
<circle cx="553.5" cy="1012.0" r="6.0" fill="#000000"/>
<circle cx="557.5" cy="1012.0" r="6.0" fill="#000000"/>
<circle cx="553.5" cy="1015.0" r="6.0" fill="#000000"/>
<circle cx="557.5" cy="1015.0" r="6.0" fill="#000000"/>
<circle cx="553.5" cy="1018.0" r="6.0" fill="#000000"/>
<circle cx="557.5" cy="1018.0" r="6.0" fill="#000000"/>
<circle cx="553.5" cy="1021.0" r="6.0" fill="#000000"/>
<circle cx="557.5" cy="1021.0" r="6.0" fill="#000000"/>
<circle cx="553.5" cy="1024.0" r="6.0" fill="#000000"/>
<circle cx="557.5" cy="1024.0" r="6.0" fill="#000000"/>
<circle cx="553.5" cy="1027.0" r="6.0" fill="#000000"/>
<circle cx="557.5" cy="1027.0" r="6.0" fill="#000000"/>
<circle cx="553.5" cy="1030.0" r="6.0" fill="#000000"/>
<circle cx="557.5" cy="1030.0" r="6.0" fill="#000000"/>
<circle cx="553.5" cy="1033.0" r="6.0" fill="#000000"/>
<circle cx="557.5" cy="1033.0" r="6.0" fill="#000000"/>
<circle cx="553.5" cy="1036.0" r="6.0" fill="#000000"/>
<circle cx="557.5" cy="1036.0" r="6.0" fill="#000000"/>
<circle cx="553.5" cy="1039.0" r="6.0" fill="#000000"/>
<circle cx="557.5" cy="1039.0" r="6.0" fill="#000000"/>
<circle cx="553.5" cy="1042.0" r="6.0" fill="#000000"/>
<circle cx="557.5" cy="1042.0" r="6.0" fill="#000000"/>
<circle cx="553.5" cy="1045.0" r="6.0" fill="#000000"/>
<circle cx="557.5" cy="1045.0" r="6.0" fill="#000000"/>
<circle cx="559.2" cy="1046.3" r="6.0" fill="#000000"/>
<circle cx="554.0" cy="1048.9" r="6.0" fill="#000000"/>
<circle cx="351.8" cy="1007.5" r="6.0" fill="#000000"/>
<circle cx="346.5" cy="1010.1" r="6.0" fill="#000000"/>
<circle cx="347.2" cy="1021.3" r="6.0" fill="#000000"/>
<circle cx="342.6" cy="1035.1" r="6.0" fill="#000000"/>
<circle cx="338.6" cy="1048.9" r="6.0" fill="#000000"/>
<circle cx="326.8" cy="1056.1" r="6.0" fill="#000000"/>
<circle cx="581.1" cy="935.1" r="6.0" fill="#000000"/>
<circle cx="589.9" cy="949.5" r="6.0" fill="#000000"/>
<circle cx="449.6" cy="942.5" r="6.0" fill="#000000"/>
<circle cx="283.3" cy="930.7" r="6.0" fill="#000000"/>
<circle cx="287.7" cy="935.0" r="6.0" fill="#000000"/>
<circle cx="278.9" cy="948.2" r="6.0" fill="#000000"/>
<circle cx="269.3" cy="960.4" r="6.0" fill="#000000"/>
<circle cx="286.3" cy="913.2" r="6.0" fill="#000000"/>
<circle cx="286.3" cy="1085.3" r="6.0" fill="#000000"/>
<circle cx="276.9" cy="1103.2" r="6.0" fill="#000000"/>
<circle cx="277.4" cy="1161.3" r="6.0" fill="#000000"/>
<circle cx="537.0" cy="1126.9" r="6.0" fill="#000000"/>
<circle cx="412.0" cy="975.5" r="6.0" fill="#000000"/>
<circle cx="412.0" cy="983.0" r="6.0" fill="#000000"/>
<circle cx="412.0" cy="991.0" r="6.0" fill="#000000"/>
<circle cx="256.0" cy="1021.0" r="6.0" fill="#000000"/>
<circle cx="256.0" cy="1024.0" r="6.0" fill="#000000"/>
<circle cx="256.0" cy="1027.0" r="6.0" fill="#000000"/>
<circle cx="256.0" cy="1030.0" r="6.0" fill="#000000"/>
<circle cx="256.0" cy="1033.0" r="6.0" fill="#000000"/>
<circle cx="256.0" cy="1036.0" r="6.0" fill="#000000"/>
<circle cx="256.0" cy="1039.0" r="6.0" fill="#000000"/>
<circle cx="256.0" cy="1042.0" r="6.0" fill="#000000"/>
<circle cx="256.0" cy="1045.0" r="6.0" fill="#000000"/>
<circle cx="256.0" cy="1048.0" r="6.0" fill="#000000"/>
<circle cx="256.0" cy="1051.0" r="6.0" fill="#000000"/>
<circle cx="256.0" cy="1054.0" r="6.0" fill="#000000"/>
<circle cx="274.6" cy="1011.3" r="6.0" fill="#2a1d18"/>
<path d="M215.1,955.6 L226.5,964.0 L232.0,960.0 L240.0,959.0 L241.5,963.0 L242.4,973.3 L241.5,982.0 L236.0,992.0 L241.5,1000.3 L239.8,1008.1 L240.7,1016.0 L246.8,1025.6 L243.3,1037.0 L238.0,1045.8 L238.0,1052.6 L233.0,1058.0 L226.0,1066.0 L224.8,1076.0 L224.8,1090.0 L225.0,1103.0 L229.3,1113.1 L232.8,1121.0 L236.3,1129.8 L235.4,1142.0 L230.2,1151.7 L226.7,1159.5 L226.0,1170.0 L226.0,1180.0 L225.0,1186.8 L224.0,1186.8 L223.5,1180.0 L223.0,1170.0 L222.9,1159.5 L222.0,1149.0 L216.3,1135.0 L216.8,1121.9 L215.0,1114.9 L205.4,1106.1 L214.0,1098.0 L215.5,1085.0 L214.0,1070.0 L210.0,1058.0 L207.0,1045.0 L208.0,1033.0 L205.0,1020.0 L200.0,1008.0 L204.0,990.0 L206.3,975.0 L209.8,963.0 Z" fill="#e23a2a"/>
<circle cx="215.1" cy="955.6" r="6.0" fill="#e23a2a"/>
<circle cx="226.5" cy="964.0" r="6.0" fill="#e23a2a"/>
<circle cx="232.0" cy="960.0" r="6.0" fill="#e23a2a"/>
<circle cx="240.0" cy="959.0" r="6.0" fill="#e23a2a"/>
<circle cx="241.5" cy="963.0" r="6.0" fill="#e23a2a"/>
<circle cx="242.4" cy="973.3" r="6.0" fill="#e23a2a"/>
<circle cx="241.5" cy="982.0" r="6.0" fill="#e23a2a"/>
<circle cx="236.0" cy="992.0" r="6.0" fill="#e23a2a"/>
<circle cx="241.5" cy="1000.3" r="6.0" fill="#e23a2a"/>
<circle cx="239.8" cy="1008.1" r="6.0" fill="#e23a2a"/>
<circle cx="240.7" cy="1016.0" r="6.0" fill="#e23a2a"/>
<circle cx="246.8" cy="1025.6" r="6.0" fill="#e23a2a"/>
<circle cx="243.3" cy="1037.0" r="6.0" fill="#e23a2a"/>
<circle cx="238.0" cy="1045.8" r="6.0" fill="#e23a2a"/>
<circle cx="238.0" cy="1052.6" r="6.0" fill="#e23a2a"/>
<circle cx="233.0" cy="1058.0" r="6.0" fill="#e23a2a"/>
<circle cx="226.0" cy="1066.0" r="6.0" fill="#e23a2a"/>
<circle cx="224.8" cy="1076.0" r="6.0" fill="#e23a2a"/>
<circle cx="224.8" cy="1090.0" r="6.0" fill="#e23a2a"/>
<circle cx="225.0" cy="1103.0" r="6.0" fill="#e23a2a"/>
<circle cx="229.3" cy="1113.1" r="6.0" fill="#e23a2a"/>
<circle cx="232.8" cy="1121.0" r="6.0" fill="#e23a2a"/>
<circle cx="236.3" cy="1129.8" r="6.0" fill="#e23a2a"/>
<circle cx="235.4" cy="1142.0" r="6.0" fill="#e23a2a"/>
<circle cx="230.2" cy="1151.7" r="6.0" fill="#e23a2a"/>
<circle cx="226.7" cy="1159.5" r="6.0" fill="#e23a2a"/>
<circle cx="226.0" cy="1170.0" r="6.0" fill="#e23a2a"/>
<circle cx="226.0" cy="1180.0" r="6.0" fill="#e23a2a"/>
<circle cx="225.0" cy="1186.8" r="6.0" fill="#e23a2a"/>
<circle cx="224.0" cy="1186.8" r="6.0" fill="#e23a2a"/>
<circle cx="223.5" cy="1180.0" r="6.0" fill="#e23a2a"/>
<circle cx="223.0" cy="1170.0" r="6.0" fill="#e23a2a"/>
<circle cx="222.9" cy="1159.5" r="6.0" fill="#e23a2a"/>
<circle cx="222.0" cy="1149.0" r="6.0" fill="#e23a2a"/>
<circle cx="216.3" cy="1135.0" r="6.0" fill="#e23a2a"/>
<circle cx="216.8" cy="1121.9" r="6.0" fill="#e23a2a"/>
<circle cx="215.0" cy="1114.9" r="6.0" fill="#e23a2a"/>
<circle cx="205.4" cy="1106.1" r="6.0" fill="#e23a2a"/>
<circle cx="214.0" cy="1098.0" r="6.0" fill="#e23a2a"/>
<circle cx="215.5" cy="1085.0" r="6.0" fill="#e23a2a"/>
<circle cx="214.0" cy="1070.0" r="6.0" fill="#e23a2a"/>
<circle cx="210.0" cy="1058.0" r="6.0" fill="#e23a2a"/>
<circle cx="207.0" cy="1045.0" r="6.0" fill="#e23a2a"/>
<circle cx="208.0" cy="1033.0" r="6.0" fill="#e23a2a"/>
<circle cx="205.0" cy="1020.0" r="6.0" fill="#e23a2a"/>
<circle cx="200.0" cy="1008.0" r="6.0" fill="#e23a2a"/>
<circle cx="204.0" cy="990.0" r="6.0" fill="#e23a2a"/>
<circle cx="206.3" cy="975.0" r="6.0" fill="#e23a2a"/>
<circle cx="209.8" cy="963.0" r="6.0" fill="#e23a2a"/>
<circle cx="234.8" cy="1067.5" r="6.0" fill="#e23a2a"/>
<circle cx="237.0" cy="1089.8" r="6.0" fill="#e23a2a"/>
<circle cx="248.4" cy="1124.1" r="6.0" fill="#e23a2a"/>
<circle cx="216.5" cy="1080.0" r="6.0" fill="#e23a2a"/>
<circle cx="217.0" cy="1095.0" r="6.0" fill="#e23a2a"/>
<path d="M136.2,981.0 L145.5,982.2 L152.6,988.0 L153.7,995.0 L156.1,1006.7 L155.5,1020.0 L160.7,1028.0 L166.0,1010.0 L171.2,998.5 L181.8,991.5 L185.3,977.5 L193.4,972.8 L200.4,984.5 L198.1,997.4 L206.3,1017.2 L212.1,1034.7 L206.3,1046.4 L205.1,1062.8 L208.6,1077.5 L205.1,1093.3 L192.9,1100.3 L182.3,1084.5 L177.1,1084.5 L171.8,1098.5 L170.1,1110.8 L159.6,1109.1 L150.8,1094.2 L146.4,1116.1 L142.0,1127.4 L135.9,1139.7 L128.9,1116.9 L128.0,1096.8 L126.3,1082.8 L124.5,1067.5 L125.7,1037.1 L126.9,1017.2 L131.5,998.5 L135.0,988.0 Z" fill="#5ba6d3"/>
<circle cx="136.2" cy="981.0" r="6.0" fill="#5ba6d3"/>
<circle cx="145.5" cy="982.2" r="6.0" fill="#5ba6d3"/>
<circle cx="152.6" cy="988.0" r="6.0" fill="#5ba6d3"/>
<circle cx="153.7" cy="995.0" r="6.0" fill="#5ba6d3"/>
<circle cx="156.1" cy="1006.7" r="6.0" fill="#5ba6d3"/>
<circle cx="155.5" cy="1020.0" r="6.0" fill="#5ba6d3"/>
<circle cx="160.7" cy="1028.0" r="6.0" fill="#5ba6d3"/>
<circle cx="166.0" cy="1010.0" r="6.0" fill="#5ba6d3"/>
<circle cx="171.2" cy="998.5" r="6.0" fill="#5ba6d3"/>
<circle cx="181.8" cy="991.5" r="6.0" fill="#5ba6d3"/>
<circle cx="185.3" cy="977.5" r="6.0" fill="#5ba6d3"/>
<circle cx="193.4" cy="972.8" r="6.0" fill="#5ba6d3"/>
<circle cx="200.4" cy="984.5" r="6.0" fill="#5ba6d3"/>
<circle cx="198.1" cy="997.4" r="6.0" fill="#5ba6d3"/>
<circle cx="206.3" cy="1017.2" r="6.0" fill="#5ba6d3"/>
<circle cx="212.1" cy="1034.7" r="6.0" fill="#5ba6d3"/>
<circle cx="206.3" cy="1046.4" r="6.0" fill="#5ba6d3"/>
<circle cx="205.1" cy="1062.8" r="6.0" fill="#5ba6d3"/>
<circle cx="208.6" cy="1077.5" r="6.0" fill="#5ba6d3"/>
<circle cx="205.1" cy="1093.3" r="6.0" fill="#5ba6d3"/>
<circle cx="192.9" cy="1100.3" r="6.0" fill="#5ba6d3"/>
<circle cx="182.3" cy="1084.5" r="6.0" fill="#5ba6d3"/>
<circle cx="177.1" cy="1084.5" r="6.0" fill="#5ba6d3"/>
<circle cx="171.8" cy="1098.5" r="6.0" fill="#5ba6d3"/>
<circle cx="170.1" cy="1110.8" r="6.0" fill="#5ba6d3"/>
<circle cx="159.6" cy="1109.1" r="6.0" fill="#5ba6d3"/>
<circle cx="150.8" cy="1094.2" r="6.0" fill="#5ba6d3"/>
<circle cx="146.4" cy="1116.1" r="6.0" fill="#5ba6d3"/>
<circle cx="142.0" cy="1127.4" r="6.0" fill="#5ba6d3"/>
<circle cx="135.9" cy="1139.7" r="6.0" fill="#5ba6d3"/>
<circle cx="128.9" cy="1116.9" r="6.0" fill="#5ba6d3"/>
<circle cx="128.0" cy="1096.8" r="6.0" fill="#5ba6d3"/>
<circle cx="126.3" cy="1082.8" r="6.0" fill="#5ba6d3"/>
<circle cx="124.5" cy="1067.5" r="6.0" fill="#5ba6d3"/>
<circle cx="125.7" cy="1037.1" r="6.0" fill="#5ba6d3"/>
<circle cx="126.9" cy="1017.2" r="6.0" fill="#5ba6d3"/>
<circle cx="131.5" cy="998.5" r="6.0" fill="#5ba6d3"/>
<circle cx="135.0" cy="988.0" r="6.0" fill="#5ba6d3"/>
<circle cx="136.4" cy="1156.4" r="6.0" fill="#5ba6d3"/>
<circle cx="195.5" cy="1131.8" r="6.0" fill="#5ba6d3"/>
<circle cx="200.7" cy="1138.8" r="6.0" fill="#5ba6d3"/>
<circle cx="195.5" cy="1145.8" r="6.0" fill="#5ba6d3"/>
<circle cx="194.6" cy="1152.9" r="6.0" fill="#5ba6d3"/>
<circle cx="189.3" cy="1159.0" r="6.0" fill="#5ba6d3"/>
<circle cx="192.0" cy="1173.0" r="6.0" fill="#5ba6d3"/>
<rect x="102.7" y="867.4" width="567.0" height="355.0" fill="none" stroke="#000" stroke-width="2.1"/>
<line x1="102.7" y1="1178.025" x2="108.10000000000001" y2="1178.025" stroke="#000" stroke-width="1.6"/>
<line x1="102.7" y1="1133.65" x2="108.10000000000001" y2="1133.65" stroke="#000" stroke-width="1.6"/>
<line x1="102.7" y1="1089.275" x2="108.10000000000001" y2="1089.275" stroke="#000" stroke-width="1.6"/>
<line x1="102.7" y1="1044.9" x2="108.10000000000001" y2="1044.9" stroke="#000" stroke-width="1.6"/>
<line x1="102.7" y1="1000.5250000000001" x2="108.10000000000001" y2="1000.5250000000001" stroke="#000" stroke-width="1.6"/>
<line x1="102.7" y1="956.15" x2="108.10000000000001" y2="956.15" stroke="#000" stroke-width="1.6"/>
<line x1="102.7" y1="911.775" x2="108.10000000000001" y2="911.775" stroke="#000" stroke-width="1.6"/>
<line x1="216.10000000000002" y1="1222.4" x2="216.10000000000002" y2="1217.4" stroke="#000" stroke-width="1.6"/>
<line x1="329.5" y1="1222.4" x2="329.5" y2="1217.4" stroke="#000" stroke-width="1.6"/>
<line x1="442.9" y1="1222.4" x2="442.9" y2="1217.4" stroke="#000" stroke-width="1.6"/>
<line x1="556.3000000000001" y1="1222.4" x2="556.3000000000001" y2="1217.4" stroke="#000" stroke-width="1.6"/>
<rect x="624.5" y="866.4" width="46.2" height="45.9" fill="#231815"/>
<text x="633.93" y="905.10" font-size="42.57" fill="#fff" font-weight="bold" textLength="28.34" lengthAdjust="spacingAndGlyphs">C</text>
<text x="62.77" y="1227.98" font-size="16.11" fill="#000" stroke="#000" stroke-width="0.45" textLength="23.59" lengthAdjust="spacingAndGlyphs">-15</text>
<text x="62.77" y="1183.61" font-size="16.11" fill="#000" stroke="#000" stroke-width="0.45" textLength="23.51" lengthAdjust="spacingAndGlyphs">-10</text>
<text x="68.38" y="1139.23" font-size="16.11" fill="#000" stroke="#000" stroke-width="0.45" textLength="18.12" lengthAdjust="spacingAndGlyphs">-5</text>
<text x="77.25" y="1094.86" font-size="16.11" fill="#000" stroke="#000" stroke-width="0.45" textLength="9.04" lengthAdjust="spacingAndGlyphs">0</text>
<text x="77.24" y="1050.48" font-size="16.11" fill="#000" stroke="#000" stroke-width="0.45" textLength="9.13" lengthAdjust="spacingAndGlyphs">5</text>
<text x="68.07" y="1006.11" font-size="16.11" fill="#000" stroke="#000" stroke-width="0.45" textLength="18.24" lengthAdjust="spacingAndGlyphs">10</text>
<text x="68.06" y="961.73" font-size="16.11" fill="#000" stroke="#000" stroke-width="0.45" textLength="18.33" lengthAdjust="spacingAndGlyphs">15</text>
<text x="68.50" y="917.35" font-size="16.11" fill="#000" stroke="#000" stroke-width="0.45" textLength="17.80" lengthAdjust="spacingAndGlyphs">20</text>
<text x="68.50" y="872.98" font-size="16.11" fill="#000" stroke="#000" stroke-width="0.45" textLength="17.88" lengthAdjust="spacingAndGlyphs">25</text>
<text x="98.03" y="1250.40" font-size="16.29" fill="#000" stroke="#000" stroke-width="0.45" textLength="9.27" lengthAdjust="spacingAndGlyphs">0</text>
<text x="207.05" y="1250.40" font-size="16.29" fill="#000" stroke="#000" stroke-width="0.45" textLength="18.06" lengthAdjust="spacingAndGlyphs">50</text>
<text x="315.47" y="1250.40" font-size="16.29" fill="#000" stroke="#000" stroke-width="0.45" textLength="27.47" lengthAdjust="spacingAndGlyphs">100</text>
<text x="428.87" y="1250.40" font-size="16.29" fill="#000" stroke="#000" stroke-width="0.45" textLength="27.47" lengthAdjust="spacingAndGlyphs">150</text>
<text x="542.69" y="1250.40" font-size="16.29" fill="#000" stroke="#000" stroke-width="0.45" textLength="27.03" lengthAdjust="spacingAndGlyphs">200</text>
<text x="656.09" y="1250.40" font-size="16.29" fill="#000" stroke="#000" stroke-width="0.45" textLength="27.03" lengthAdjust="spacingAndGlyphs">250</text>
<text x="338.10" y="1281.60" font-size="24.35" fill="#231815" textLength="99.21" lengthAdjust="spacingAndGlyphs">Age (Ma)</text>
<text transform="rotate(-90)" x="-1066.94" y="39.80" font-size="25.22" fill="#231815" textLength="57.39" lengthAdjust="spacingAndGlyphs">εHf(t)</text>
<text x="119.47" y="904.60" font-size="16.67" fill="#231815" textLength="38.87" lengthAdjust="spacingAndGlyphs">Post-</text>
<text x="120.16" y="923.40" font-size="15.45" fill="#231815" textLength="57.33" lengthAdjust="spacingAndGlyphs">collision</text>
<text x="120.36" y="941.10" font-size="14.00" fill="#231815" textLength="35.61" lengthAdjust="spacingAndGlyphs">stage</text>
<text x="217.13" y="883.70" font-size="13.43" fill="#231815" textLength="30.48" lengthAdjust="spacingAndGlyphs">Syn-</text>
<text x="217.21" y="901.80" font-size="14.48" fill="#231815" textLength="52.79" lengthAdjust="spacingAndGlyphs">collision</text>
<text x="217.36" y="918.70" font-size="13.38" fill="#231815" textLength="36.23" lengthAdjust="spacingAndGlyphs">stage</text>
<text x="325.90" y="1129.80" font-size="15.51" fill="#231815" textLength="88.38" lengthAdjust="spacingAndGlyphs">Pre-collision</text>
<text x="325.81" y="1147.50" font-size="12.57" fill="#231815" textLength="119.27" lengthAdjust="spacingAndGlyphs">(Subduction stage</text>
<text x="326.11" y="1164.00" font-size="12.97" fill="#231815" textLength="103.74" lengthAdjust="spacingAndGlyphs">of oceanic slab)</text>
</svg>
</body></html>
